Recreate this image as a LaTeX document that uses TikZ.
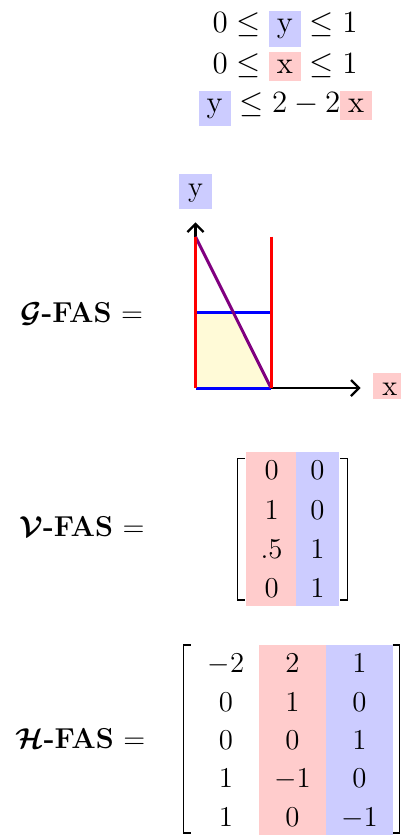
\documentclass[tikz,border=0pt]{standalone}
\usepackage{amsmath,amssymb}
\usetikzlibrary{arrows.meta}
\definecolor{cr}{RGB}{255,204,204}
\definecolor{cb}{RGB}{204,204,255}
\definecolor{cy}{RGB}{255,250,215}
\definecolor{cp}{RGB}{128,0,128}
\tikzset{
  ineq/.style={inner sep=0pt, anchor=base, scale=1.076, transform shape, font=\fontsize{14.4}{17}\selectfont},
  ent/.style={inner sep=0pt, anchor=base, font=\fontsize{14.4}{17}\selectfont},
  lbl/.style={inner sep=0pt, anchor=base west, font=\fontsize{14.4}{17}\selectfont},
  axlbl/.style={inner sep=0pt, anchor=base, minimum width=16.5pt, font=\fontsize{14.4}{17}\selectfont},
  axisline/.style={line width=1.2pt, -{Straight Barb[length=4pt,width=8pt]}},
  seg/.style={line width=1.5pt},
  brk/.style={line width=0.65pt},
}
\begin{document}
\begin{tikzpicture}[x={(0.5pt,0)}, y={(0,-0.5pt)}]
\useasboundingbox (0,0) rectangle (401,836);
% inequalities
\setlength{\fboxsep}{3.7pt}
\node[ineq] (r1) at (285,32.7) {$0 \le \colorbox{cb}{y} \le 1$};
\node[ineq] (r2) at (285,73) {$0 \le \colorbox{cr}{x} \le 1$};
\node[ineq] (r3) at (285.5,112) {$\colorbox{cb}{y} \le 2 - 2\colorbox{cr}{x}$};

% graph
\coordinate (O) at (195.5,388);
\coordinate (A) at (271,388);
\coordinate (B) at (195.5,312.7);
\coordinate (C) at (271,312.7);
\coordinate (D) at (233.2,312.7);
\coordinate (T) at (195.5,236.7);
\coordinate (T2) at (271,236.7);
\coordinate (YE) at (195.5,222.3);
\coordinate (XE) at (360.7,388);
\fill[cy] (O) -- (A) -- (D) -- (B) -- cycle;
\draw[axisline] (O) -- (YE);
\draw[axisline] (O) -- (XE);
\draw[seg, blue] (B) -- (C);
\draw[seg, blue] (O) -- (A);
\draw[seg, cp] (T) -- (A);
\draw[seg, red] (T) -- (O);
\draw[seg, red] (T2) -- (A);
\node[axlbl, fill=cb, text height=11.15pt, text depth=6.35pt] (ylab) at (195.5,196.3) {y};
\node[axlbl, fill=cr, text height=10.85pt, text depth=2.15pt] (xlab) at (389.7,395) {x};
\node[lbl] (glab) at (20,322.3) {$\boldsymbol{\mathcal{G}}$\textbf{-FAS} $=$};

% V matrix
\fill[cr] (246,451.7) rectangle (296,605.7);
\fill[cb] (296,451.7) rectangle (339,605.7);
\draw[brk] (245,458.3) -- (237.3,458.3) -- (237.3,600) -- (245,600);
\draw[brk] (340,458.3) -- (347.3,458.3) -- (347.3,600) -- (340,600);
\node[lbl] (vlab) at (19,536.6) {$\boldsymbol{\mathcal{V}}$\textbf{-FAS} $=$};
\node[ent] (v11) at (271.6,479.3) {$0$};
\node[ent] (v12) at (317.5,479.3) {$0$};
\node[ent] (v21) at (271.6,519) {$1$};
\node[ent] (v22) at (317.5,519) {$0$};
\node[ent] (v31) at (271.6,558.3) {$.5$};
\node[ent] (v32) at (317.5,558.3) {$1$};
\node[ent] (v41) at (271.6,597.5) {$0$};
\node[ent] (v42) at (317.5,597.5) {$1$};

% H matrix
\fill[cr] (259.3,645) rectangle (326,835);
\fill[cb] (326,645) rectangle (392.7,835);
\draw[brk] (190.7,645) -- (183.3,645) -- (183.3,833) -- (190.7,833);
\draw[brk] (392.7,645) -- (399.5,645) -- (399.5,833) -- (392.7,833);
\node[lbl] (hlab) at (15,748) {$\boldsymbol{\mathcal{H}}$\textbf{-FAS} $=$};
\node[ent] (h11) at (226,672) {$-2$};
\node[ent] (h12) at (292.5,672) {$2$};
\node[ent] (h13) at (359.5,672) {$1$};
\node[ent] (h21) at (226,711) {$0$};
\node[ent] (h22) at (292.5,711) {$1$};
\node[ent] (h23) at (359.5,711) {$0$};
\node[ent] (h31) at (226,749.5) {$0$};
\node[ent] (h32) at (292.5,749.5) {$0$};
\node[ent] (h33) at (359.5,749.5) {$1$};
\node[ent] (h41) at (226,787) {$1$};
\node[ent] (h42) at (292.5,787) {$-1$};
\node[ent] (h43) at (359.5,787) {$0$};
\node[ent] (h51) at (226,826) {$1$};
\node[ent] (h52) at (292.5,826) {$0$};
\node[ent] (h53) at (359.5,826) {$-1$};
\end{tikzpicture}
\end{document}
